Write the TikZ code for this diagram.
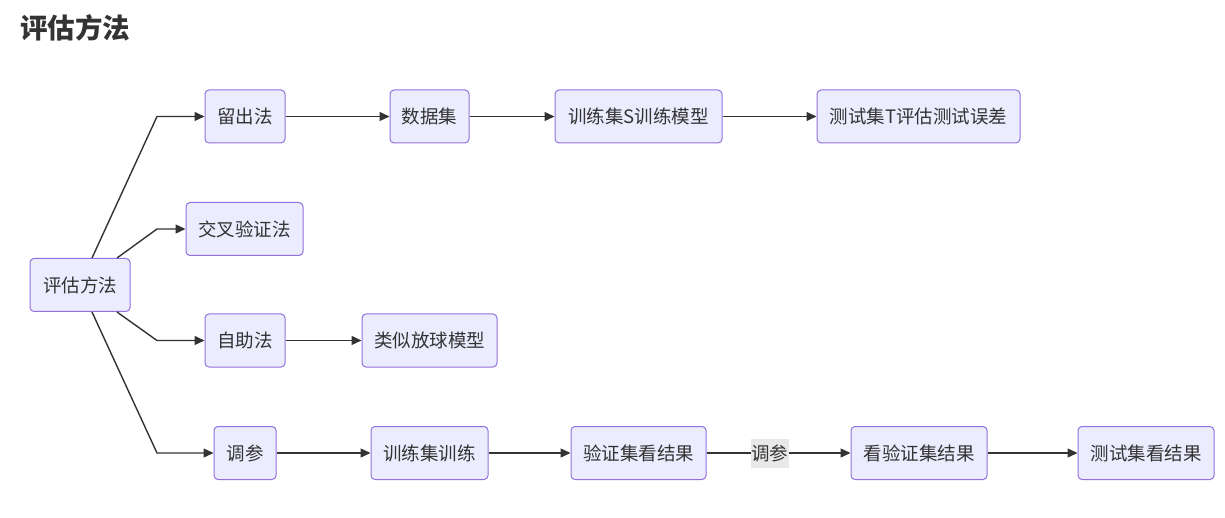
\documentclass[tikz,border=0pt]{standalone}
\usepackage{fontspec}
\setmainfont{Noto Sans CJK SC}
\usetikzlibrary{arrows.meta}
\definecolor{nodefill}{HTML}{ECECFF}
\definecolor{nodeline}{HTML}{9370DB}
\definecolor{edgecol}{HTML}{333333}
\definecolor{lblbg}{HTML}{E8E8E8}
\begin{document}
\begin{tikzpicture}[x=1pt,y=-1pt,
  box/.style={draw=nodeline,fill=nodefill,line width=1pt,rounded corners=4pt,
    minimum height=53pt,inner sep=0pt,font=\fontsize{18.5}{22}\selectfont,text=edgecol},
  conn/.style={draw=edgecol,line width=1.4pt,-{Triangle[length=10pt,width=9pt]}},
  lbl/.style={fill=lblbg,inner xsep=0.5pt,minimum height=29pt,inner ysep=0pt,font=\fontsize{18.5}{22}\selectfont,text=edgecol}]
\useasboundingbox (0,0) rectangle (1225,518);
\node[anchor=west,font=\bfseries\fontsize{27.5}{32}\selectfont,text=edgecol,inner sep=0pt] (title) at (20,28) {评估方法};
\node[box,minimum width=100pt] (root) at (80,285) {评估方法};
\node[box,minimum width=80pt] (lc) at (245,116.5) {留出法};
\node[box,minimum width=79pt] (sj) at (429.5,116.5) {数据集};
\node[box,minimum width=167pt] (xl) at (638.5,116.5) {训练集S训练模型};
\node[box,minimum width=203pt] (cs) at (918.5,116.5) {测试集T评估测试误差};
\node[box,minimum width=117pt] (jc) at (244.5,229) {交叉验证法};
\node[box,minimum width=80pt] (zz) at (245,340.5) {自助法};
\node[box,minimum width=135pt] (ls) at (429.5,340.5) {类似放球模型};
\node[box,minimum width=62pt] (tc) at (245,453) {调参};
\node[box,minimum width=117pt] (xx) at (429.5,453) {训练集训练};
\node[box,minimum width=135pt] (yz) at (638.5,453) {验证集看结果};
\node[box,minimum width=136pt] (kj) at (919,453) {看验证集结果};
\node[box,minimum width=136pt] (csj) at (1146,453) {测试集看结果};
\coordinate (b1) at (157,116.5);
\coordinate (b2) at (157,229);
\coordinate (b3) at (157,340.5);
\coordinate (b4) at (157,453);
\draw[conn] ([xshift=12pt]root.north) -- (b1) -- (lc.west);
\draw[conn] ([xshift=37pt]root.north) -- (b2) -- (jc.west);
\draw[conn] ([xshift=37pt]root.south) -- (b3) -- (zz.west);
\draw[conn] ([xshift=12pt]root.south) -- (b4) -- (tc.west);
\draw[conn] (lc) -- (sj);
\draw[conn] (sj) -- (xl);
\draw[conn] (xl) -- (cs);
\draw[conn] (zz) -- (ls);
\draw[conn] (tc) -- (xx);
\draw[conn] (xx) -- (yz);
\draw[conn] (yz) -- node[lbl,pos=0.44] (l1) {调参} (kj);
\draw[conn] (kj) -- (csj);
\end{tikzpicture}
\end{document}
